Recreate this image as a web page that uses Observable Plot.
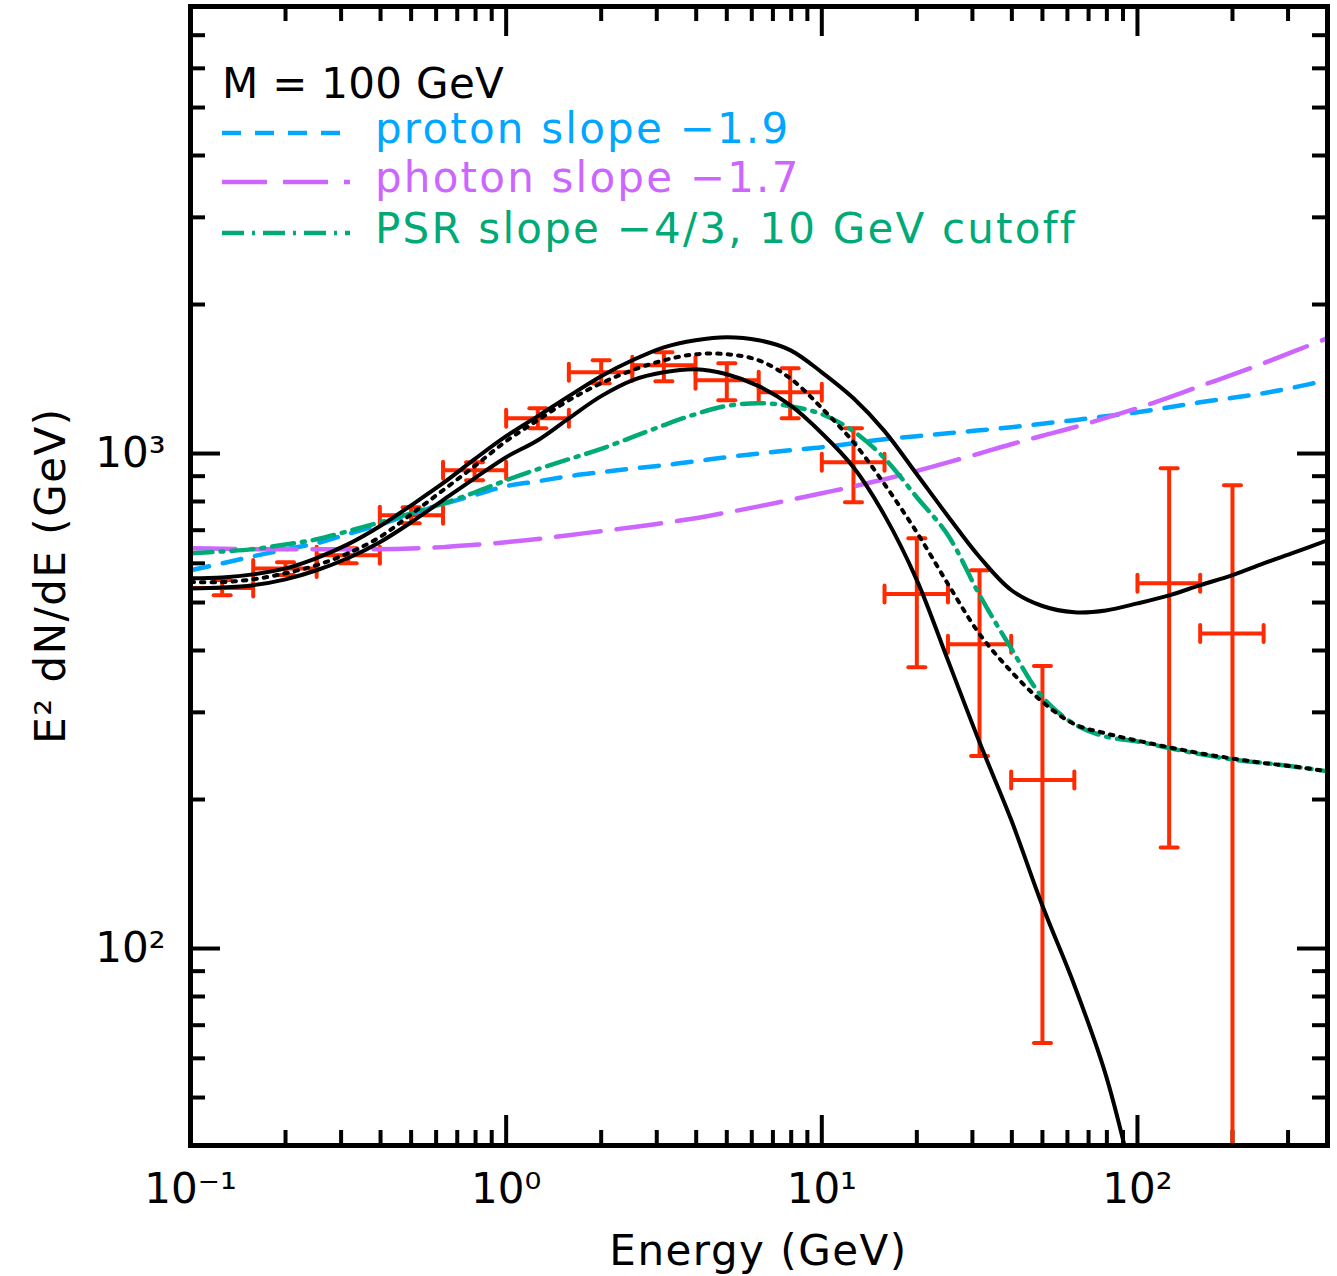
<!DOCTYPE html>
<html><head><meta charset="utf-8">
<script src="https://cdn.jsdelivr.net/npm/d3@7"></script>
<script src="https://cdn.jsdelivr.net/npm/@observablehq/plot@0.6"></script>
<style>
html,body{margin:0;padding:0;background:#fff;}
#chart{width:1337px;height:1276px;}
</style>
</head><body><div id="chart"></div>
<script>
// ---------- data ----------
const energy = [0.1,0.126,0.158,0.2,0.251,0.316,0.398,0.5,0.631,0.794,1,1.26,1.58,2,2.51,3.16,3.98,5,6.31,7.94,10,12.6,15.8,20,25.1,31.6,39.8,50,63.1,79.4,100,126,158,200,251,316,400];
const protonFlux = [581,600,620,640,659,688,719,755,790,824,859,879,900,917,932,947,965,983,1000,1015,1030,1049,1069,1084,1099,1114,1130,1149,1168,1190,1212,1240,1269,1296,1324,1362,1406];
const photonFlux = [644,642,641,641,641,641,641,643,647,654,662,672,684,697,710,724,740,760,782,806,831,858,887,922,960,1000,1044,1086,1130,1180,1235,1298,1368,1443,1522,1612,1710];
const psrFlux = [629,634,641,655,671,697,726,757,792,834,883,930,974,1022,1079,1141,1201,1248,1264,1246,1201,1109,978,816,684,518,404,322,284,268,262,254,247,241,237,233,228];
const modelMid = [550,550,557,573,595,629,678,754,843,943,1059,1168,1281,1387,1473,1543,1587,1587,1543,1419,1235,1054,867,693,545,432,363,315,284,272,263,255,248,242,237,233,228];
const modelUpper = [560,562,570,586,615,656,713,786,871,974,1084,1190,1306,1433,1543,1639,1694,1718,1694,1618,1459,1293,1110,908,747,618,530,492,478,482,498,517,542,568,600,632,668];
const modelLower = [534,536,542,557,581,615,662,726,805,891,983,1064,1178,1306,1406,1459,1480,1446,1368,1252,1099,938,750,555,382,261,182,122,84.3,55.5,31,null,null,null,null,null,null];

const binLo = [0.1,0.158,0.251,0.398,0.631,1,1.58,2.51,3.98,6.31,10,15.8,25.1,39.8,100,158];
const binHi = [0.158,0.251,0.398,0.631,1,1.58,2.51,3.98,6.31,10,15.8,25.1,39.8,63.1,158,251];
const binCenter = [0.126,0.2,0.316,0.5,0.794,1.26,2,3.16,5,7.94,12.6,20,31.6,50,126,200];
const obsFlux = [535,586,623,750,925,1178,1459,1508,1406,1330,960,520,412,219,547,433];
const obsHi = [555,603,644,779,960,1235,1543,1602,1522,1487,1125,674,581,372,934,863];
const obsLo = [517,568,600,723,883,1125,1387,1400,1281,1178,797,370,245,64.4,160,20];

const xMajorTicks = [1,10,100];
const xMinorTicks = [0.2,0.3,0.4,0.5,0.6,0.7,0.8,0.9,2,3,4,5,6,7,8,9,20,30,40,50,60,70,80,90,200,300];
const xTickValues = [0.1,1,10,100];
const xTickLabels = ["10\u207B\u00B9","10\u2070","10\u00B9","10\u00B2"];
const yMajorTicks = [100,1000];
const yMinorTicks = [50,60,70,80,90,200,300,400,500,600,700,800,900,2000,3000,4000,5000,6000,7000];
const yTickValues = [100,1000];
const yTickLabels = ["10\u00B2","10\u00B3"];

const legendTitle = "M = 100 GeV";
const legendLabels = ["proton slope \u22121.9","photon slope \u22121.7","PSR slope \u22124/3, 10 GeV cutoff"];
const xTitle = "Energy (GeV)";
const yTitle = "E\u00B2 dN/dE (GeV)";

// ---------- styles ----------
const FONT = "DejaVu Sans";
const BLUE = "#00A6FF", PURPLE = "#CC66FF", GREEN = "#00AA77", RED = "#FF2A00";
const legendColors = [BLUE, PURPLE, GREEN];
const legendDash = ["19,14", "45,16", "22,8,3,8"];

const W = 1337, H = 1276, mL = 190, mR = 10, mT = 6, mB = 131;
const fw = W - mL - mR, fh = H - mT - mB;

const series = (arr) => energy.map((e, i) => ({e, v: arr[i]})).filter(d => d.v != null);
const points = binCenter.map((e, i) => ({e, lo: binLo[i], hi: binHi[i], v: obsFlux[i], vlo: obsLo[i], vhi: obsHi[i]}));
const capShape = {draw(ctx, l) { ctx.moveTo(0, -l / 2); ctx.lineTo(0, l / 2); }};
const xLabelMap = new Map(xTickValues.map((v, i) => [v, xTickLabels[i]]));
const yLabelMap = new Map(yTickValues.map((v, i) => [v, yTickLabels[i]]));

const colorLine = {x: "e", y: "v", strokeWidth: 4.5, curve: "catmull-rom", clip: true};
const blackLine = {x: "e", y: "v", strokeWidth: 4, curve: "catmull-rom", clip: true, stroke: "black"};
const tickOpts = {stroke: "black", strokeWidth: 4};
const errOpts = {stroke: RED, strokeWidth: 4, clip: true};

const plot = Plot.plot({
  width: W, height: H,
  marginLeft: mL, marginRight: mR, marginTop: mT, marginBottom: mB,
  x: {type: "log", domain: [0.1, 400]},
  y: {type: "log", domain: [40, 8000]},
  style: {fontFamily: FONT, fontSize: "42px", background: "white", color: "black", overflow: "visible"},
  marks: [
    // inward ticks on four sides
    Plot.tickX(xMinorTicks, {x: d => d, insetTop: fh - 15, ...tickOpts}),
    Plot.tickX(xMinorTicks, {x: d => d, insetBottom: fh - 15, ...tickOpts}),
    Plot.tickX(xMajorTicks, {x: d => d, insetTop: fh - 30, ...tickOpts}),
    Plot.tickX(xMajorTicks, {x: d => d, insetBottom: fh - 30, ...tickOpts}),
    Plot.tickY(yMinorTicks, {y: d => d, insetRight: fw - 15, ...tickOpts}),
    Plot.tickY(yMinorTicks, {y: d => d, insetLeft: fw - 15, ...tickOpts}),
    Plot.tickY(yMajorTicks, {y: d => d, insetRight: fw - 30, ...tickOpts}),
    Plot.tickY(yMajorTicks, {y: d => d, insetLeft: fw - 30, ...tickOpts}),
    Plot.axisX(xTickValues, {anchor: "bottom", tickSize: 0, tickPadding: 28, tickFormat: d => xLabelMap.get(d), fontSize: 42, label: null}),
    Plot.axisY(yTickValues, {anchor: "left", tickSize: 0, tickPadding: 25, tickFormat: d => yLabelMap.get(d), fontSize: 42, label: null}),
    // data points with error bars
    Plot.link(points, {x1: "lo", x2: "hi", y1: "v", y2: "v", ...errOpts}),
    Plot.link(points, {x1: "e", x2: "e", y1: "vlo", y2: "vhi", ...errOpts}),
    Plot.vector(points, {x: "lo", y: "v", length: 17, rotate: 0, anchor: "start", shape: capShape, ...errOpts}),
    Plot.vector(points, {x: "hi", y: "v", length: 17, rotate: 0, anchor: "start", shape: capShape, ...errOpts}),
    Plot.vector(points, {x: "e", y: "vhi", length: 17, rotate: 90, anchor: "start", shape: capShape, ...errOpts}),
    Plot.vector(points, {x: "e", y: "vlo", length: 17, rotate: 90, anchor: "start", shape: capShape, ...errOpts}),
    // curves
    Plot.line(series(protonFlux), {...colorLine, stroke: BLUE, strokeDasharray: legendDash[0]}),
    Plot.line(series(photonFlux), {...colorLine, stroke: PURPLE, strokeDasharray: legendDash[1]}),
    Plot.line(series(psrFlux), {...colorLine, stroke: GREEN, strokeDasharray: legendDash[2]}),
    Plot.line(series(modelMid), {...blackLine, strokeDasharray: "3.5,7"}),
    Plot.line(series(modelUpper), blackLine),
    Plot.line(series(modelLower), blackLine),
    Plot.frame({stroke: "black", strokeWidth: 5})
  ]
});

document.getElementById("chart").appendChild(plot);

// ---------- legend and axis titles ----------
const svg = d3.select(plot);
const g = svg.append("g").attr("font-family", FONT).attr("font-size", 42)
  .attr("letter-spacing", "1.5px").attr("text-anchor", "start");
g.append("text").attr("x", 222).attr("y", 98).attr("fill", "black").attr("letter-spacing", "0.3px").text(legendTitle);
const swatchY = [133, 182, 233], textY = [143, 192, 243];
legendLabels.forEach((t, i) => {
  g.append("line").attr("x1", 222).attr("x2", 350).attr("y1", swatchY[i]).attr("y2", swatchY[i])
    .attr("stroke", legendColors[i]).attr("stroke-width", 4.5).attr("stroke-dasharray", legendDash[i]);
  g.append("text").attr("x", 375).attr("y", textY[i]).attr("fill", legendColors[i]).attr("letter-spacing", "2.2px").text(t);
});
g.append("text").attr("x", mL + fw / 2).attr("y", 1265).attr("text-anchor", "middle").attr("fill", "black").text(xTitle);
g.append("text").attr("transform", `translate(65,${mT + fh / 2}) rotate(-90)`).attr("text-anchor", "middle").attr("fill", "black").text(yTitle);
</script></body></html>
